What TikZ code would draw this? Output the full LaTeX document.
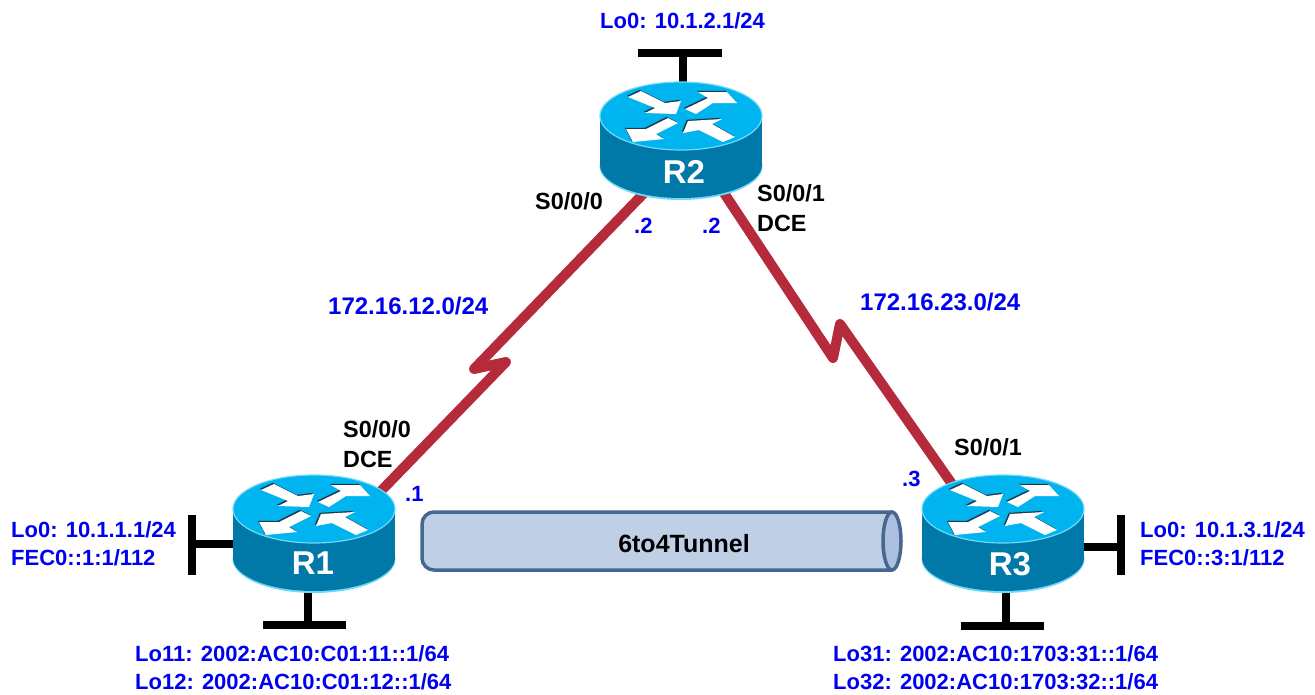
\documentclass[tikz,border=0pt]{standalone}
\usepackage{fontspec}
\setmainfont{Liberation Sans}
\definecolor{rtop}{HTML}{00B4F0}
\definecolor{rside}{HTML}{0078A8}
\definecolor{rrim}{HTML}{70D8F8}
\definecolor{rshadow}{HTML}{1A3A50}
\definecolor{serial}{HTML}{B52B3B}
\definecolor{tunfill}{HTML}{BFD0E6}
\definecolor{tunend}{HTML}{ABC0E0}
\definecolor{tunline}{HTML}{47678F}
\definecolor{lblue}{HTML}{0000F0}
\tikzset{
  x=1pt,y=-1pt,
  lbl/.style={anchor=base west,inner sep=0pt,font=\bfseries\fontsize{22}{26}\selectfont},
  bluelbl/.style={lbl,text=lblue},
  netlbl/.style={lbl,text=lblue,font=\bfseries\fontsize{24}{28}\selectfont},
  blacklbl/.style={lbl,text=black,font=\bfseries\fontsize{23.4}{28}\selectfont},
  routername/.style={inner sep=0pt,text=white,font=\bfseries\fontsize{33}{36}\selectfont},
  serialline/.style={draw=serial,line width=10pt,line join=round,line cap=round},
  stub/.style={draw=black,line width=8.5pt},
  arrowfill/.style={fill=white,draw=none},
  arrowshade/.style={fill=rshadow,draw=none}
}
\newcommand{\arrowset}[1]{%
  \fill[#1] (-53,-19) -- (-40,-25) -- (-16,-13) -- (0,-15) -- (-5,-2) -- (-36,-3) -- (-26,-8) -- cycle;
  \fill[#1] (4,-7) -- (27,-18) -- (17,-24) -- (46,-24) -- (56,-13) -- (32,-13) -- (15,-2) -- cycle;
  \fill[#1] (-13,2) -- (-3,7) -- (-25,18) -- (-17,23) -- (-48,26) -- (-55,13) -- (-35,13) -- cycle;
  \fill[#1] (2,17) -- (7,5) -- (41,3) -- (31,8) -- (54,21) -- (42,26) -- (18,14) -- cycle;
}
\newcommand{\routerbody}[2]{%
  \begin{scope}[shift={(#1,#2)}]
    \fill[rrim] (0,50) ellipse [x radius=81.5,y radius=34];
    \fill[rside] (0,49) ellipse [x radius=81,y radius=33];
    \fill[rside] (-81,0) rectangle (81,49);
    \filldraw[fill=rtop,draw=rrim,line width=1.2pt] (0,0) ellipse [x radius=81,y radius=34];
    \begin{scope}[shift={(-1.2,-1.2)}]\arrowset{arrowshade}\end{scope}
    \arrowset{arrowfill}
  \end{scope}%
}
\begin{document}
\begin{tikzpicture}
\useasboundingbox (0,0) rectangle (1315,694);
% named ends and bends
\coordinate (R2a) at (645,192);
\coordinate (Z1a) at (474,369);
\coordinate (Z1b) at (506,362);
\coordinate (R1a) at (380,492);
\coordinate (R2b) at (722,190);
\coordinate (Z2a) at (833,358);
\coordinate (Z2b) at (840,324);
\coordinate (R3a) at (952,484);
% serial links
\path[serialline] (R2a) -- (Z1a) -- (Z1b) -- (R1a);
\path[serialline] (R2b) -- (Z2a) -- (Z2b) -- (R3a);
% loopback stubs
\coordinate (T2s) at (683,86); \coordinate (T2t) at (683,53);
\coordinate (T2l) at (638,53); \coordinate (T2r) at (722,53);
\path[stub] (T2s) -- (T2t); \path[stub] (T2l) -- (T2r);
\coordinate (T1s) at (236,544); \coordinate (T1t) at (192,544);
\coordinate (T1u) at (192,515); \coordinate (T1d) at (192,575);
\path[stub] (T1s) -- (T1t); \path[stub] (T1u) -- (T1d);
\coordinate (B1s) at (308,587); \coordinate (B1t) at (308,625);
\coordinate (B1l) at (263,625); \coordinate (B1r) at (346,625);
\path[stub] (B1s) -- (B1t); \path[stub] (B1l) -- (B1r);
\coordinate (T3s) at (1080,547); \coordinate (T3t) at (1121,547);
\coordinate (T3u) at (1121,515); \coordinate (T3d) at (1121,575);
\path[stub] (T3s) -- (T3t); \path[stub] (T3u) -- (T3d);
\coordinate (B3s) at (1006,587); \coordinate (B3t) at (1006,626);
\coordinate (B3l) at (961,626); \coordinate (B3r) at (1044,626);
\path[stub] (B3s) -- (B3t); \path[stub] (B3l) -- (B3r);
% routers
\routerbody{681}{116}
\routerbody{314}{509}
\routerbody{1003}{509}
\node[routername] (R2) at (684,172) {R2};
\node[routername] (R1) at (313,563) {R1};
\node[routername] (R3) at (1010,564) {R3};
% tunnel
\filldraw[fill=tunfill,draw=tunline,line width=3.5pt,rounded corners=12pt]
  (892,512) -- (422,512) -- (422,570) -- (892,570);
\filldraw[fill=tunfill,draw=none] (892,513.5) rectangle (893,568.5);
\filldraw[fill=tunend,draw=tunline,line width=3.5pt] (892,541) ellipse [x radius=9,y radius=29];
\node[lbl,anchor=center,text=black,font=\bfseries\fontsize{25}{28}\selectfont] (tun) at (684,544) {6to4Tunnel};
% labels
\node[bluelbl] (l2) at (600,28) {Lo0: 10.1.2.1/24};
\node[blacklbl] (s200) at (535,209) {S0/0/0};
\node[bluelbl] (d2a) at (634,233) {.2};
\node[bluelbl] (d2b) at (702,233) {.2};
\node[blacklbl] (s201) at (757,201) {S0/0/1};
\node[blacklbl] (dce2) at (757,231) {DCE};
\node[netlbl] (n12) at (328,314) {172.16.12.0/24};
\node[netlbl] (n23) at (860,310) {172.16.23.0/24};
\node[blacklbl] (s100) at (343,437) {S0/0/0};
\node[blacklbl] (dce1) at (343,467) {DCE};
\node[bluelbl] (d1) at (405,501) {.1};
\node[bluelbl] (d3) at (902,486) {.3};
\node[blacklbl] (s301) at (954,455) {S0/0/1};
\node[bluelbl] (l1a) at (11,537) {Lo0: 10.1.1.1/24};
\node[bluelbl] (l1b) at (11,565) {FEC0::1:1/112};
\node[bluelbl] (l3a) at (1140,537) {Lo0: 10.1.3.1/24};
\node[bluelbl] (l3b) at (1140,565) {FEC0::3:1/112};
\node[bluelbl] (l11) at (135,661) {Lo11: 2002:AC10:C01:11::1/64};
\node[bluelbl] (l12) at (135,689) {Lo12: 2002:AC10:C01:12::1/64};
\node[bluelbl] (l31) at (833,661) {Lo31: 2002:AC10:1703:31::1/64};
\node[bluelbl] (l32) at (833,689) {Lo32: 2002:AC10:1703:32::1/64};
\end{tikzpicture}
\end{document}
